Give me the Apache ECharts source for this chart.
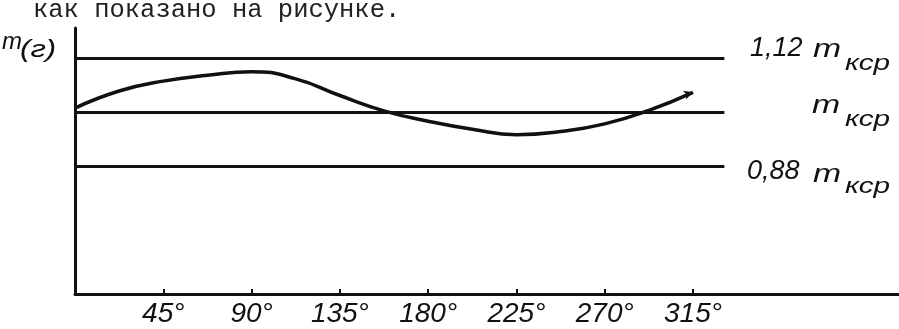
<!DOCTYPE html>
<html>
<head>
<meta charset="utf-8">
<script src="https://cdn.jsdelivr.net/npm/echarts@6/dist/echarts.min.js"></script>
<style>
html,body{margin:0;padding:0;background:#fff;}
#c{width:899px;height:329px;}
</style>
</head>
<body>
<div id="c"></div>
<script>
// Data
const angles = [0, 22.5, 45, 67.5, 90, 112.5, 135, 157.5, 180, 202.5, 225, 247.5, 270, 292.5, 315];
const massRatio = [1.009, 1.047, 1.069, 1.082, 1.090, 1.074, 1.037, 1.003, 0.980, 0.962, 0.950, 0.957, 0.974, 1.004, 1.044];
const refLevels = [1.12, 1.0, 0.88];
const refLineEnd = 331;
const tickValues = [45, 90, 135, 180, 225, 270, 315];
const tickLabels = ['45°', '90°', '135°', '180°', '225°', '270°', '315°'];
const refLabelNum = ['1,12', '', '0,88'];
const headerText = 'как показано на рисунке.';
const yAxisTitle = 'm';
const yAxisUnit = '(г)';
const refSymbol = 'm';
const refSub = 'кср';

const chart = echarts.init(document.getElementById('c'), null, {renderer: 'canvas'});
const ink = '#111';
const hand = '"Liberation Sans", "DejaVu Sans", sans-serif';

const curve = angles.map((a, i) => [a, massRatio[i]]);
const refLines = refLevels.map(v => [{coord: [0, v]}, {coord: [refLineEnd, v]}]);

function txt(text, x, y, size, sx) {
  return {
    type: 'text', x: x, y: y, scaleX: sx || 1, silent: true,
    style: {text: text, font: 'italic ' + size + 'px ' + hand, fill: ink, textBaseline: 'top'}
  };
}

// label layout: [numX, numY, mX, mY, subX, subY]
const refLabelPos = [
  [750, 35, 813, 38, 845, 53],
  [0, 0, 812, 94, 845, 109],
  [747, 158, 813, 163, 845, 176]
];

const graphics = [
  {
    type: 'text', left: 33, top: -3, silent: true,
    style: {text: headerText, font: '25.5px "Liberation Mono", monospace', fill: '#222'}
  },
  txt(yAxisTitle, 2, 30, 24, 1.0),
  txt(yAxisUnit, 20, 38, 24, 1.3)
];
refLevels.forEach((v, i) => {
  const p = refLabelPos[i];
  if (refLabelNum[i]) graphics.push(txt(refLabelNum[i], p[0], p[1], 27, 1.0));
  graphics.push(txt(refSymbol, p[2], p[3], 25, 1.35));
  graphics.push(txt(refSub, p[4], p[5], 22, 1.35));
});

chart.setOption({
  animation: false,
  backgroundColor: '#fff',
  grid: {left: 75, right: 0, top: 28, bottom: 35},
  xAxis: {
    type: 'value', min: 0, max: 420, interval: 45,
    axisLine: {show: true, onZero: false, lineStyle: {color: ink, width: 3}},
    axisTick: {show: true, inside: true, length: 5, customValues: tickValues, lineStyle: {color: ink, width: 2}},
    splitLine: {show: false},
    axisLabel: {
      show: true, margin: 6, customValues: tickValues,
      formatter: v => { const k = tickValues.indexOf(v); return k >= 0 ? tickLabels[k] : ''; },
      fontFamily: hand, fontStyle: 'italic', fontSize: 28, color: ink
    }
  },
  yAxis: {
    type: 'value', min: 0.596, max: 1.187,
    axisLine: {show: true, onZero: false, lineStyle: {color: ink, width: 3}},
    axisTick: {show: false}, axisLabel: {show: false}, splitLine: {show: false}
  },
  graphic: graphics,
  series: [
    {
      type: 'line', data: curve, smooth: true, showSymbol: false, symbol: 'none',
      lineStyle: {color: ink, width: 3.5},
      markLine: {
        silent: true, symbol: ['none', 'none'],
        lineStyle: {color: ink, width: 3, type: 'solid'},
        label: {show: false},
        data: refLines
      },
      markPoint: {
        silent: true,
        symbol: 'arrow', symbolSize: [7, 9], symbolRotate: -72,
        itemStyle: {color: ink},
        label: {show: false},
        data: [{coord: curve[curve.length - 1]}]
      }
    }
  ]
});
</script>
</body>
</html>
